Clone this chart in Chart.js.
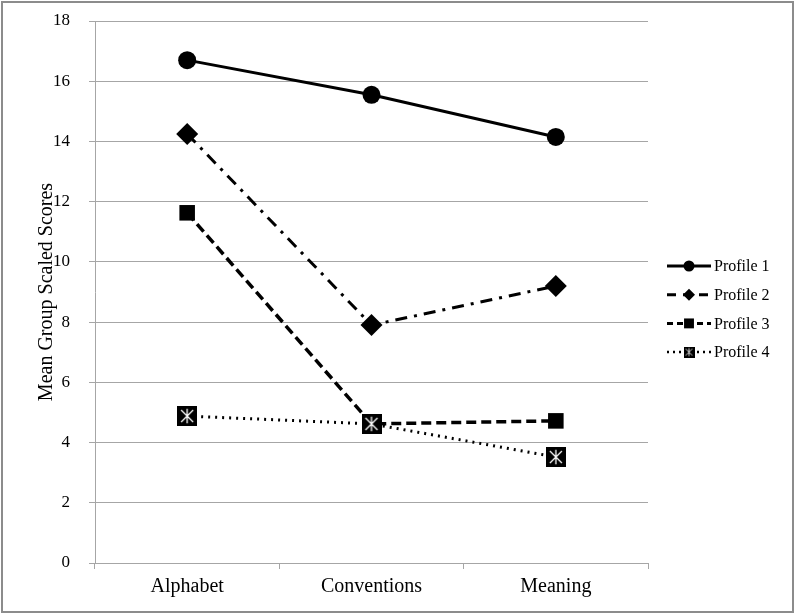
<!DOCTYPE html>
<html>
<head>
<meta charset="utf-8">
<script src="https://cdn.jsdelivr.net/npm/chart.js@4"></script>
<style>
  body { margin: 0; background: #fff; }
  #wrap { position: relative; width: 795px; height: 614px; }
  #frame { position: absolute; left: 1px; top: 1px; width: 789px; height: 608px; border: 2px solid #8c8c8c; }
  canvas { position: absolute; left: 0; top: 0; }
</style>
</head>
<body>
<div id="wrap">
  <div id="frame"></div>
  <canvas id="chart" width="795" height="614"></canvas>
</div>
<script>
var categories = ['Alphabet', 'Conventions', 'Meaning'];
var profile1 = [16.7, 15.55, 14.15];
var profile2 = [14.25, 7.9, 9.2];
var profile3 = [11.63, 4.62, 4.72];
var profile4 = [4.88, 4.62, 3.52];
var yTicks = [0, 2, 4, 6, 8, 10, 12, 14, 16, 18];

// square marker with white asterisk for profile 4
function crossBox(size) {
    var c = document.createElement('canvas');
    c.width = size; c.height = size;
    var g = c.getContext('2d');
    g.fillStyle = '#000';
    g.fillRect(0, 0, size, size);
    g.strokeStyle = '#fff';
    g.lineWidth = size > 12 ? 1.3 : 0.8;
    var p = size * 0.2;
    g.beginPath();
    g.moveTo(p, p); g.lineTo(size - p, size - p);
    g.moveTo(size - p, p); g.lineTo(p, size - p);
    g.moveTo(size / 2, p * 0.7); g.lineTo(size / 2, size - p * 0.7);
    g.stroke();
    return c;
}
var bigBox = crossBox(20);
var smallBox = crossBox(11);

var legendItems = [
    {label: 'Profile 1', style: 'circle', r: 5.5, dash: [], w: 3},
    {label: 'Profile 2', style: 'rectRot', r: 6, dash: [9, 7], w: 3},
    {label: 'Profile 3', style: 'rect', r: 7, dash: [6, 4], w: 3},
    {label: 'Profile 4', style: smallBox, r: 6, dash: [2, 4], w: 2.5}
];

var legendPlugin = {
    id: 'sideLegend',
    afterDraw: function(chart) {
        var ctx = chart.ctx;
        ctx.save();
        legendItems.forEach(function(it, i) {
            var y = 266 + i * 28.7;
            ctx.strokeStyle = '#000';
            ctx.lineWidth = it.w;
            ctx.setLineDash(it.dash);
            ctx.beginPath();
            ctx.moveTo(667, y); ctx.lineTo(711, y);
            ctx.stroke();
            ctx.setLineDash([]);
            ctx.fillStyle = '#000';
            Chart.helpers.drawPoint(ctx, {pointStyle: it.style, radius: it.r, rotation: 0, borderWidth: 0}, 689, y);
            ctx.fillStyle = '#000';
            ctx.font = '16px "Liberation Serif"';
            ctx.textBaseline = 'middle';
            ctx.fillText(it.label, 714, y + 1);
        });
        ctx.restore();
    }
};

var gridGray = '#a6a6a6';
var ctx = document.getElementById('chart').getContext('2d');
new Chart(ctx, {
    type: 'line',
    data: {
        labels: categories,
        datasets: [
            {label: 'Profile 1', data: profile1, order: 1, borderColor: '#000', backgroundColor: '#000', borderWidth: 3,
             pointStyle: 'circle', pointRadius: 9, pointBorderWidth: 0},
            {label: 'Profile 2', data: profile2, order: 2, borderColor: '#000', backgroundColor: '#000', borderWidth: 3,
             borderDash: [12, 7, 3, 7], pointStyle: 'rectRot', pointRadius: 11, pointBorderWidth: 0},
            {label: 'Profile 3', data: profile3, order: 3, borderColor: '#000', backgroundColor: '#000', borderWidth: 3.5,
             borderDash: [10, 5], pointStyle: 'rect', pointRadius: 11, pointBorderWidth: 0},
            {label: 'Profile 4', data: profile4, order: 0, borderColor: '#000', backgroundColor: '#000', borderWidth: 3,
             borderDash: [2, 5], pointStyle: bigBox, pointRadius: 10, pointBorderWidth: 0}
        ]
    },
    options: {
        responsive: false,
        animation: false,
        layout: { padding: { top: 21, right: 147, left: 0, bottom: 0 } },
        plugins: {
            legend: { display: false },
            tooltip: { enabled: false }
        },
        scales: {
            x: {
                offset: true,
                grid: { offset: true, drawOnChartArea: false, drawTicks: true, tickLength: 6, color: gridGray },
                border: { color: gridGray },
                ticks: { color: '#000', padding: 6, font: { family: 'Liberation Serif', size: 20 } },
                afterFit: function(s) { s.height = 51; s.paddingLeft = 0; s.paddingRight = 0; }
            },
            y: {
                min: 0, max: 18,
                afterBuildTicks: function(s) { s.ticks = yTicks.map(function(v) { return {value: v}; }); },
                grid: { color: gridGray, tickLength: 6 },
                border: { color: gridGray },
                ticks: { color: '#000', padding: 19, font: { family: 'Liberation Serif', size: 17 } },
                title: { display: true, text: 'Mean Group Scaled Scores', color: '#000',
                         padding: { top: 35 }, font: { family: 'Liberation Serif', size: 20 } },
                afterFit: function(s) { s.width = 95; s.paddingTop = 0; s.paddingBottom = 0; }
            }
        }
    },
    plugins: [legendPlugin]
});
</script>
</body>
</html>
